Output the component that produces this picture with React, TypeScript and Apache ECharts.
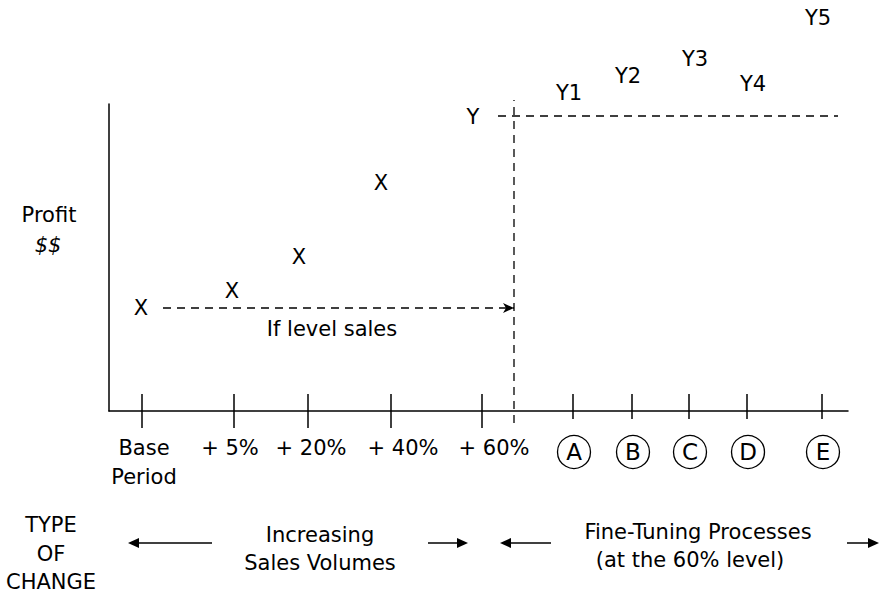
import React, { useEffect, useRef } from 'react';
import * as echarts from 'echarts';

// Conceptual diagram values (axis units)
const volumeSteps = ['Base\nPeriod', '+ 5%', '+ 20%', '+ 40%', '+ 60%'];
const volumeTickPos = [33, 125, 199, 282, 373];
const volumeLabelPos = [35, 121, 202, 294, 385];
const processSteps = ['A', 'B', 'C', 'D', 'E'];
const processTickPos = [464, 523, 580, 638, 713];
const volumeMarks = ['X', 'X', 'X', 'X', 'Y'];
const volumeMarkPos = [32, 123, 190, 272, 364];
const volumeProfit = [103, 120, 154, 228, 294];
const processMarks = ['Y1', 'Y2', 'Y3', 'Y4', 'Y5'];
const processMarkPos = [460, 519, 586, 644, 709];
const processProfit = [318, 335, 352, 327, 393];
const levelSalesArrow = [54, 103, 405, 103];
const levelSalesText = [223, 82];
const dividerLine = [405, -12, 405, 311];
const levelYLine = [389, 295, 729, 295];

const FONT = '"DejaVu Sans", sans-serif';
const INK = '#000';

function tickSeries(positions: number[], above: number, below: number) {
  return {
    type: 'custom',
    clip: false,
    silent: true,
    data: positions.map((p) => [p, 0]),
    renderItem: (params: any, api: any) => {
      const pt = api.coord([api.value(0), 0]);
      return {
        type: 'line',
        shape: { x1: pt[0], y1: pt[1] - above, x2: pt[0], y2: pt[1] + below },
        style: { stroke: INK, lineWidth: 1.5 },
      };
    },
  };
}

function segmentSeries(segments: number[][], arrow: boolean) {
  return {
    type: 'custom',
    clip: false,
    silent: true,
    data: segments,
    renderItem: (params: any, api: any) => {
      const a = api.coord([api.value(0), api.value(1)]);
      const b = api.coord([api.value(2), api.value(3)]);
      const children: any[] = [
        {
          type: 'line',
          shape: { x1: a[0], y1: a[1], x2: b[0], y2: b[1] },
          style: { stroke: INK, lineWidth: 1.3, lineDash: [8, 6] },
        },
      ];
      if (arrow) {
        children.push({
          type: 'polygon',
          shape: { points: [[b[0], b[1]], [b[0] - 11, b[1] - 5], [b[0] - 8, b[1]], [b[0] - 11, b[1] + 5]] },
          style: { fill: INK },
        });
      }
      return { type: 'group', children };
    },
  };
}

function labelSeries(xs: number[], ys: number[], texts: string[], extra: any = {}) {
  return {
    type: 'scatter',
    clip: false,
    silent: true,
    symbol: 'circle',
    symbolSize: 1,
    itemStyle: { color: 'rgba(0,0,0,0)', opacity: 1 },
    data: xs.map((x, i) => ({ value: [x, ys[i]], name: texts[i] })),
    label: {
      show: true,
      position: 'inside',
      formatter: (p: any) => p.name,
      fontFamily: FONT,
      fontSize: 21,
      color: INK,
      opacity: 1,
      textBorderWidth: 0,
      lineHeight: 29,
      ...extra,
    },
  };
}

function arrowGraphic(x1: number, x2: number, y: number) {
  // arrow head at x2
  const dir = x2 > x1 ? 1 : -1;
  return [
    { type: 'line', shape: { x1, y1: y, x2: x2 - dir * 6, y2: y }, style: { stroke: INK, lineWidth: 1.5 } },
    {
      type: 'polygon',
      shape: { points: [[x2, y], [x2 - dir * 11, y - 5], [x2 - dir * 11, y + 5]] },
      style: { fill: INK },
    },
  ];
}

export default function App() {
  const ref = useRef<HTMLDivElement>(null);
  useEffect(() => {
    if (!ref.current) return;
    const chart = echarts.init(ref.current, undefined, { renderer: 'svg' });
    const textStyle = (text: string, x: number, y: number, extra: any = {}) => ({
      type: 'text',
      x,
      y,
      style: {
        text,
        fontFamily: FONT,
        fontSize: 21,
        fill: INK,
        align: 'center',
        verticalAlign: 'middle',
        lineHeight: 28.5,
        ...extra,
      },
    });
    chart.setOption({
      animation: false,
      grid: { left: 109, right: 34, top: 104, bottom: 183, containLabel: false },
      xAxis: {
        type: 'value',
        min: 0,
        max: 739,
        axisLine: { show: true, onZero: false, lineStyle: { color: INK, width: 1.5 } },
        axisTick: { show: false },
        axisLabel: { show: false },
        splitLine: { show: false },
      },
      yAxis: {
        type: 'value',
        min: 0,
        max: 307,
        axisLine: { show: true, onZero: false, lineStyle: { color: INK, width: 1.5 } },
        axisTick: { show: false },
        axisLabel: { show: false },
        splitLine: { show: false },
      },
      series: [
        tickSeries(volumeTickPos, 17, 17),
        tickSeries(processTickPos, 17, 8),
        segmentSeries([dividerLine, levelYLine], false),
        segmentSeries([levelSalesArrow], true),
        labelSeries(volumeMarkPos, volumeProfit, volumeMarks),
        labelSeries(processMarkPos, processProfit, processMarks),
        labelSeries([levelSalesText[0]], [levelSalesText[1]], ['If level sales']),
        labelSeries(
          volumeLabelPos,
          volumeLabelPos.map(() => -23),
          volumeSteps,
          { position: 'bottom', distance: -1, align: 'center', verticalAlign: 'top' }
        ),
        {
          type: 'scatter',
          clip: false,
          silent: true,
          symbol: 'circle',
          symbolSize: 33,
          itemStyle: { color: '#fff', borderColor: INK, borderWidth: 1.3, opacity: 1 },
          data: processTickPos.map((x, i) => ({ value: [x + 1, -41], name: processSteps[i] })),
          label: {
            show: true,
            position: 'inside',
            formatter: (p: any) => p.name,
            fontFamily: FONT,
            fontSize: 23,
            color: INK,
            opacity: 1,
            textBorderWidth: 0,
          },
        },
      ],
      graphic: [
        textStyle('Profit', 49, 215),
        textStyle('$$', 48, 245, { fontStyle: 'italic' }),
        textStyle('TYPE\nOF\nCHANGE', 51, 553.5),
        textStyle('Increasing\nSales Volumes', 320, 549),
        textStyle('Fine-Tuning Processes', 698, 532),
        textStyle('(at the 60% level)', 690, 560),
        ...arrowGraphic(212, 128, 543),
        ...arrowGraphic(428, 468, 543),
        ...arrowGraphic(551, 500, 543),
        ...arrowGraphic(847, 879, 543),
      ],
    });
    return () => chart.dispose();
  }, []);
  return (
    <div
      ref={ref}
      style={{ position: 'fixed', left: 0, top: 0, width: 882, height: 594, background: '#fff' }}
    />
  );
}
